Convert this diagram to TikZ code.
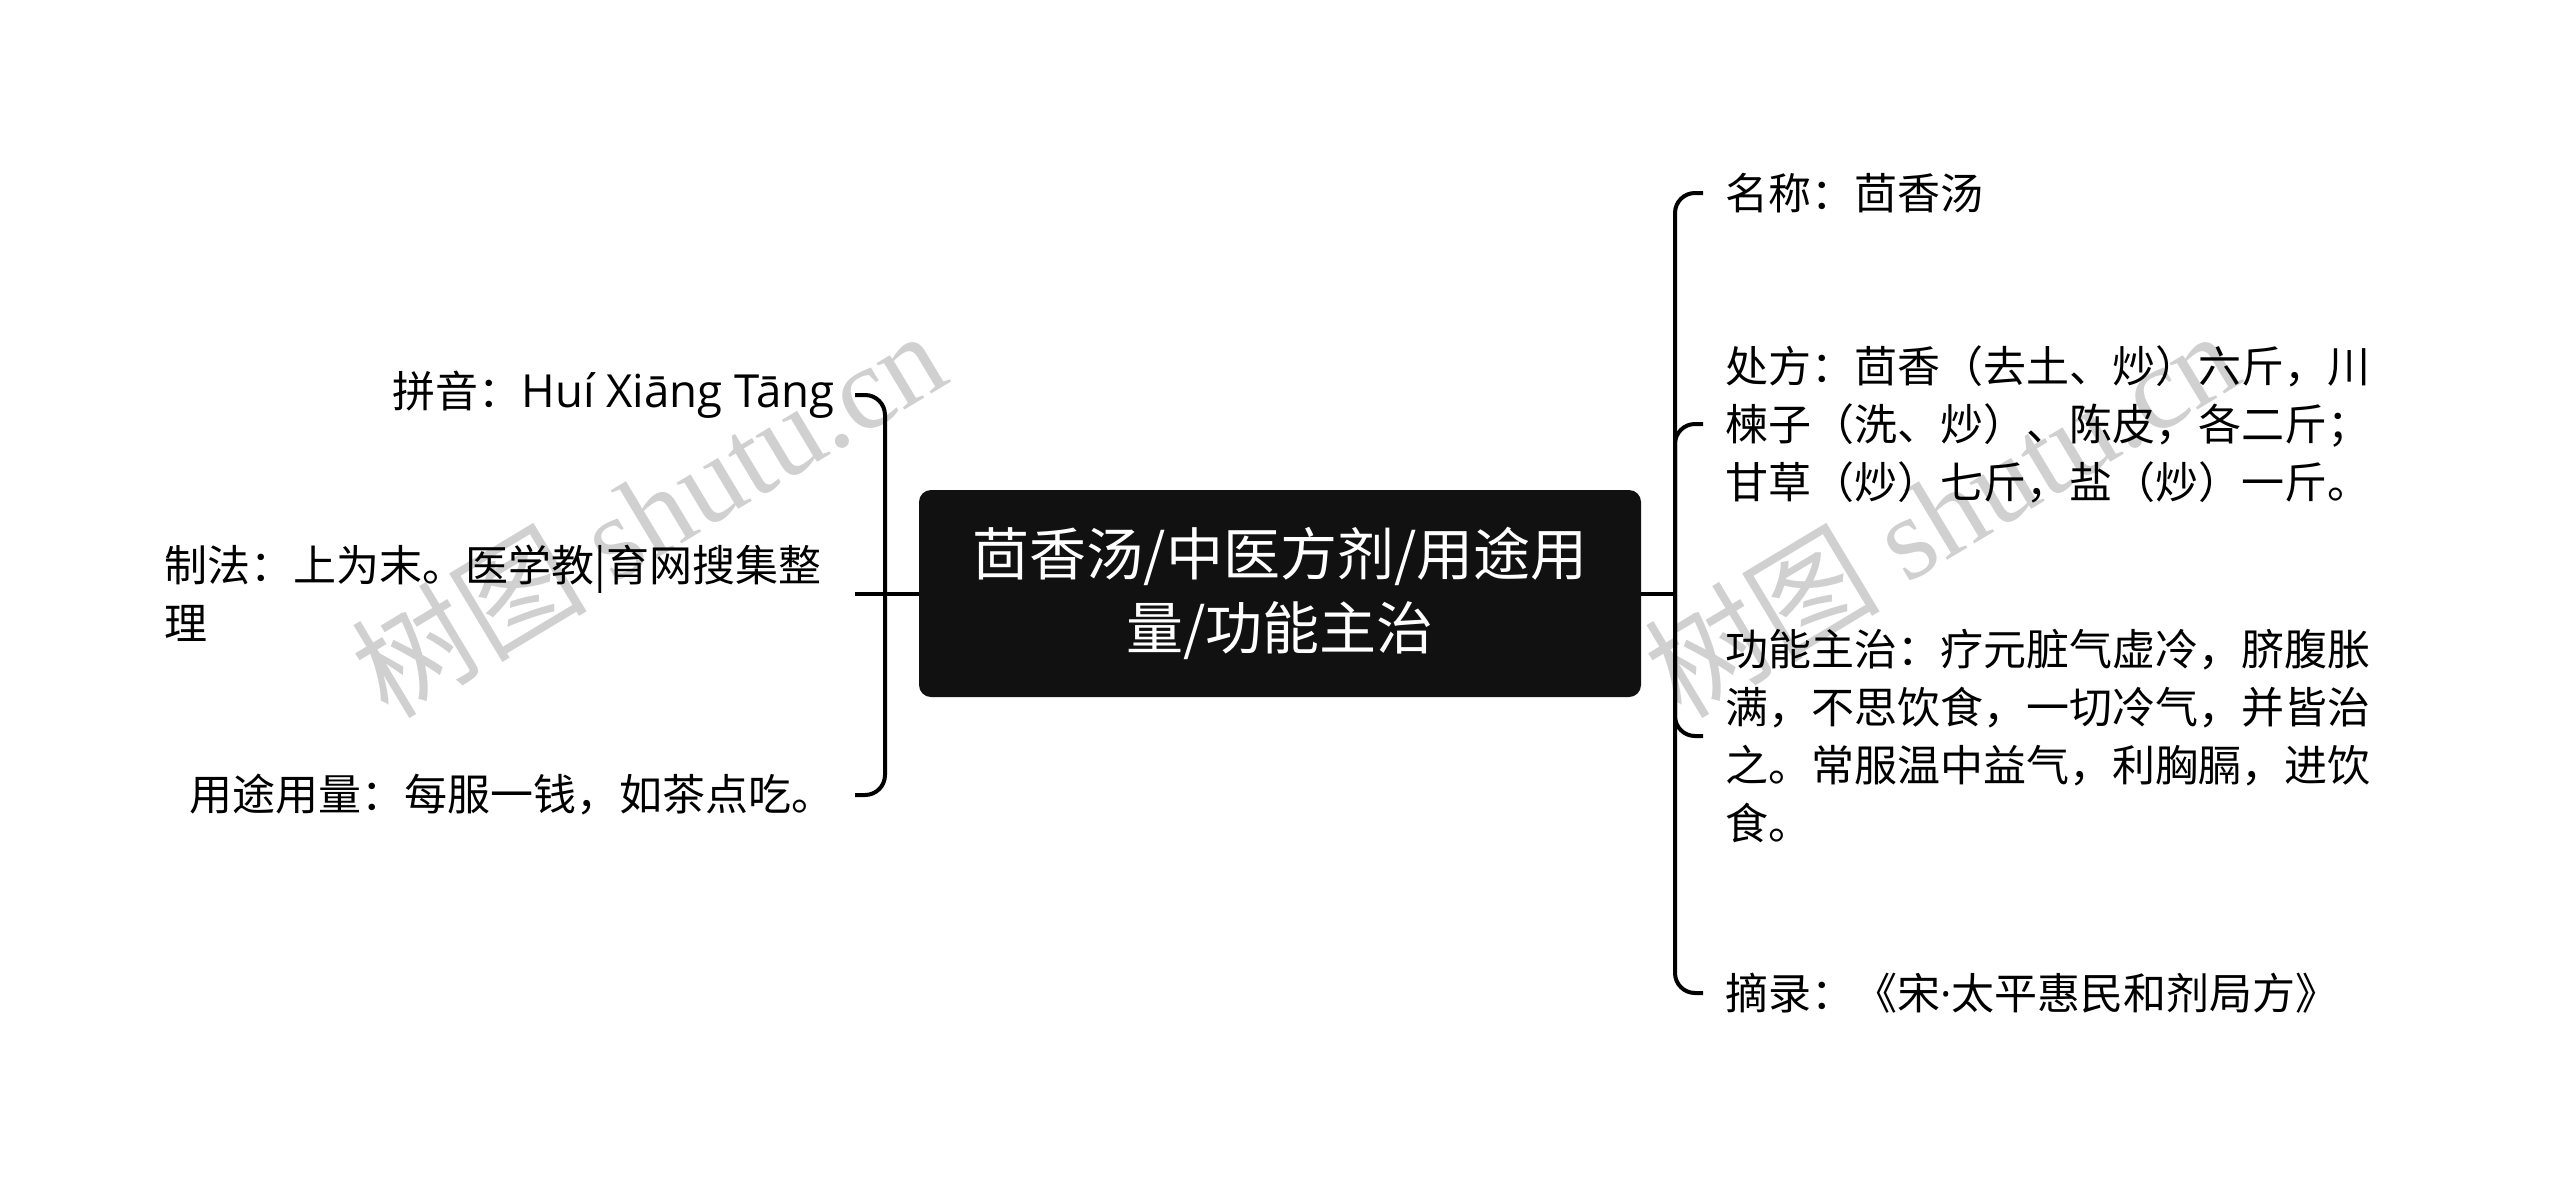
\documentclass[tikz,border=0pt]{standalone}
\usepackage{fontspec}
\setmainfont{Noto Sans CJK SC}
\newfontfamily\latinfont{Open Sans}
\newfontfamily\wmserif{Liberation Serif}
\definecolor{boxfill}{HTML}{111111}
\definecolor{wmgray}{HTML}{D0D0D0}
\begin{document}
\begin{tikzpicture}[x=0.5pt,y=-0.5pt,
  conn/.style={line width=2pt, black, rounded corners=10pt},
  rootbox/.style={fill=boxfill, rounded corners=6pt, text=white, align=center,
    minimum width=361pt, minimum height=103.5pt, inner sep=0pt,
    font=\fontsize{28.5pt}{36.75pt}\selectfont},
  leaf/.style={align=left, inner ysep=2pt, font=\fontsize{21.5pt}{29pt}\selectfont},
  leftleaf/.style={leaf, anchor=east, inner xsep=10pt},
  rightleaf/.style={leaf, anchor=west, inner xsep=11pt},
  wm/.style={text=wmgray, rotate=31, inner sep=0pt, font=\fontsize{59pt}{60pt}\selectfont}]
\useasboundingbox (0,0) rectangle (2560,1189);
% watermarks
\node[wm] (wmL) at (648,512) {树图 {\wmserif shutu.cn}};
\node[wm] (wmR) at (1941,512) {树图 {\wmserif shutu.cn}};
% root
\node[rootbox] (root) at (1280,593.5) {茴香汤/中医方剂/用途用\\量/功能主治};
% left leaves
\node[leftleaf] (l1) at (855,395) {拼音：{\latinfont\fontsize{22.8pt}{29pt}\selectfont Huí Xiāng Tāng}};
\node[leftleaf, text width=335pt] (l2) at (855,593.5) {制法：上为末。医学教|育网搜集整\\理};
\node[leftleaf] (l3) at (855,795) {用途用量：每服一钱，如茶点吃。};
% right leaves
\node[rightleaf] (r1) at (1703,193) {名称：茴香汤};
\node[rightleaf] (r2) at (1703,424) {处方：茴香（去土、炒）六斤，川\\楝子（洗、炒）、陈皮，各二斤；\\甘草（炒）七斤，盐（炒）一斤。};
\node[rightleaf] (r3) at (1703,736) {功能主治：疗元脏气虚冷，脐腹胀\\满，不思饮食，一切冷气，并皆治\\之。常服温中益气，利胸膈，进饮\\食。};
\node[rightleaf] (r4) at (1703,993) {摘录：《宋{\latinfont ·}太平惠民和剂局方》};
% junctions
\coordinate (lj) at (885,593.5);
\coordinate (rj) at (1675,593.5);
% connectors
\draw[conn] (root.west) -- (lj);
\draw[conn] (lj) |- (l1.east);
\draw[conn] (lj) -- (l2.east);
\draw[conn] (lj) |- (l3.east);
\draw[conn] (root.east) -- (rj);
\draw[conn] (rj) |- (r1.west);
\draw[conn] (rj) |- (r2.west);
\draw[conn] (rj) |- (r3.west);
\draw[conn] (rj) |- (r4.west);
\end{tikzpicture}
\end{document}
